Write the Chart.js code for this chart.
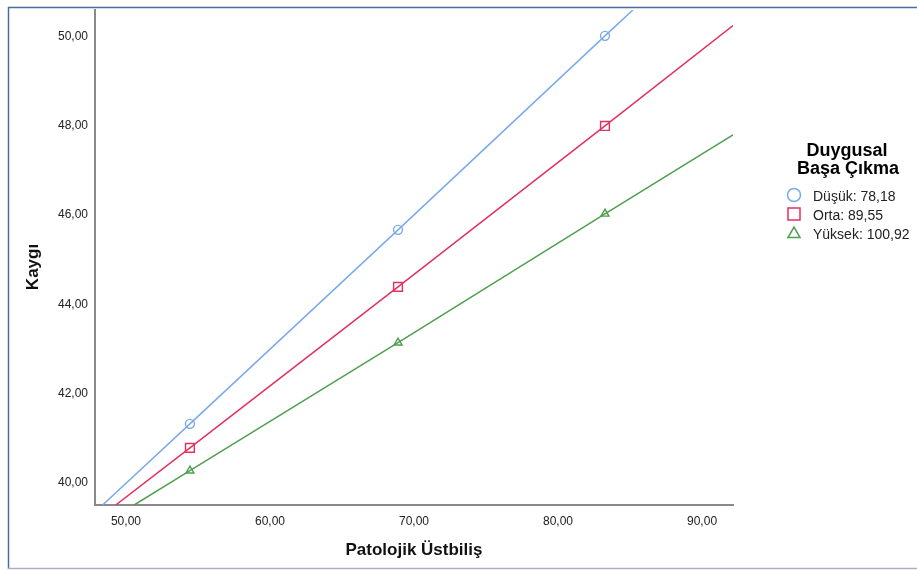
<!DOCTYPE html>
<html>
<head>
<meta charset="utf-8">
<script src="https://cdn.jsdelivr.net/npm/chart.js@4"></script>
<style>
  body { margin: 0; background: #fff; }
  canvas { display: block; }
</style>
</head>
<body>
<canvas id="chart" width="917" height="570"></canvas>
<script>
// values
const xPoints = [54.44, 68.89, 83.26];
const dusukValues = [41.32, 45.67, 50.02];
const ortaValues = [40.78, 44.39, 48.00];
const yuksekValues = [40.27, 43.14, 46.03];

// where each fit line leaves the plot area
const dusukEnds = [{x: 48.38, y: 39.5}, {x: 85.2, y: 50.6}];
const ortaEnds = [{x: 49.29, y: 39.5}, {x: 92.15, y: 50.25}];
const yuksekEnds = [{x: 50.57, y: 39.5}, {x: 92.15, y: 47.80}];

const xTicks = [50, 60, 70, 80, 90];
const yTicks = [40, 42, 44, 46, 48, 50];

const groupLabels = ['Düşük: 78,18', 'Orta: 89,55', 'Yüksek: 100,92'];
const legendTitle = ['Duygusal', 'Başa Çıkma'];
const colors = ['#7aaaea', '#e3315f', '#4e9f4e'];
const pointStyles = ['circle', 'rect', 'triangle'];
const pointSizes = [4.5, 6.2, 4.6];

const FONT = "'Liberation Sans', Arial, sans-serif";
const fmt = v => v.toFixed(2).replace('.', ',');

function buildLine(values, ends) {
    return [ends[0], ...xPoints.map((x, i) => ({x: x, y: values[i]})), ends[1]];
}

function makeDataset(idx, values, ends) {
    const data = buildLine(values, ends);
    return {
        label: groupLabels[idx], data: data,
        borderColor: colors[idx], borderWidth: 1.5,
        pointStyle: pointStyles[idx], pointBorderColor: colors[idx], pointBackgroundColor: 'transparent',
        pointBorderWidth: 1.4,
        pointRadius: (ctx) => (ctx.dataIndex === 0 || ctx.dataIndex === data.length - 1) ? 0 : pointSizes[idx],
        tension: 0, fill: false
    };
}

const frameAndLegend = {
    id: 'frameAndLegend',
    afterDraw: (chart) => {
        const {ctx} = chart;
        ctx.save();
        // outer frame
        ctx.lineWidth = 1.5;
        ctx.strokeStyle = '#4f6a9c';
        ctx.beginPath();
        ctx.moveTo(8.5, 569); ctx.lineTo(8.5, 7.5); ctx.lineTo(917, 7.5);
        ctx.stroke();
        ctx.strokeStyle = '#a9b1c2';
        ctx.beginPath();
        ctx.moveTo(8, 568.5); ctx.lineTo(917, 568.5);
        ctx.stroke();

        // y axis title
        ctx.fillStyle = '#111';
        ctx.font = 'bold 17px ' + FONT;
        ctx.textAlign = 'center';
        ctx.textBaseline = 'middle';
        ctx.save();
        ctx.translate(33, 267);
        ctx.rotate(-Math.PI / 2);
        ctx.fillText('Kaygı', 0, 0);
        ctx.restore();

        // legend
        ctx.fillStyle = '#000';
        ctx.font = 'bold 18px ' + FONT;
        ctx.textBaseline = 'alphabetic';
        ctx.fillText(legendTitle[0], 847, 156);
        ctx.fillText(legendTitle[1], 848, 174);

        ctx.font = '14px ' + FONT;
        ctx.textAlign = 'left';
        const legendSizes = [6.5, 8.5, 7];
        groupLabels.forEach((label, i) => {
            const y = 195 + i * 19;
            ctx.strokeStyle = colors[i];
            ctx.fillStyle = 'transparent';
            ctx.lineWidth = 1.5;
            Chart.helpers.drawPoint(ctx, {pointStyle: pointStyles[i], radius: legendSizes[i], rotation: 0, borderWidth: 1.5}, 794, y + (i === 2 ? 1 : 0));
            ctx.fillStyle = '#222';
            ctx.fillText(label, 813, y + 6);
        });
        ctx.restore();
    }
};

new Chart(document.getElementById('chart').getContext('2d'), {
    type: 'line',
    data: {
        datasets: [
            makeDataset(0, dusukValues, dusukEnds),
            makeDataset(1, ortaValues, ortaEnds),
            makeDataset(2, yuksekValues, yuksekEnds)
        ]
    },
    plugins: [frameAndLegend],
    options: {
        responsive: false, devicePixelRatio: 1, animation: false,
        layout: { padding: { left: 0, top: 10, right: 184, bottom: 0 } },
        plugins: { legend: { display: false }, tooltip: { enabled: false } },
        scales: {
            x: {
                type: 'linear', min: 47.85, max: 92.15,
                afterBuildTicks: (scale) => { scale.ticks = xTicks.map(v => ({value: v})); },
                afterFit: (scale) => { scale.height = 65; scale.paddingLeft = 0; scale.paddingRight = 0; },
                grid: { display: false, drawTicks: false },
                border: { display: true, color: '#8a8a8a', width: 2 },
                ticks: { color: '#222', padding: 9, maxRotation: 0, font: { family: FONT, size: 12 }, callback: v => fmt(v) },
                title: { display: true, text: 'Patolojik Üstbiliş', color: '#111', padding: { top: 0, bottom: 9 }, font: { family: FONT, size: 17, weight: 'bold' } }
            },
            y: {
                type: 'linear', min: 39.5, max: 50.6,
                afterBuildTicks: (scale) => { scale.ticks = yTicks.map(v => ({value: v})); },
                afterFit: (scale) => { scale.width = 95; scale.paddingTop = 0; scale.paddingBottom = 0; },
                grid: { display: false, drawTicks: false },
                border: { display: true, color: '#8a8a8a', width: 2 },
                ticks: { color: '#222', padding: 7, font: { family: FONT, size: 12 }, callback: v => fmt(v) },
                title: { display: false }
            }
        }
    }
});
</script>
</body>
</html>
